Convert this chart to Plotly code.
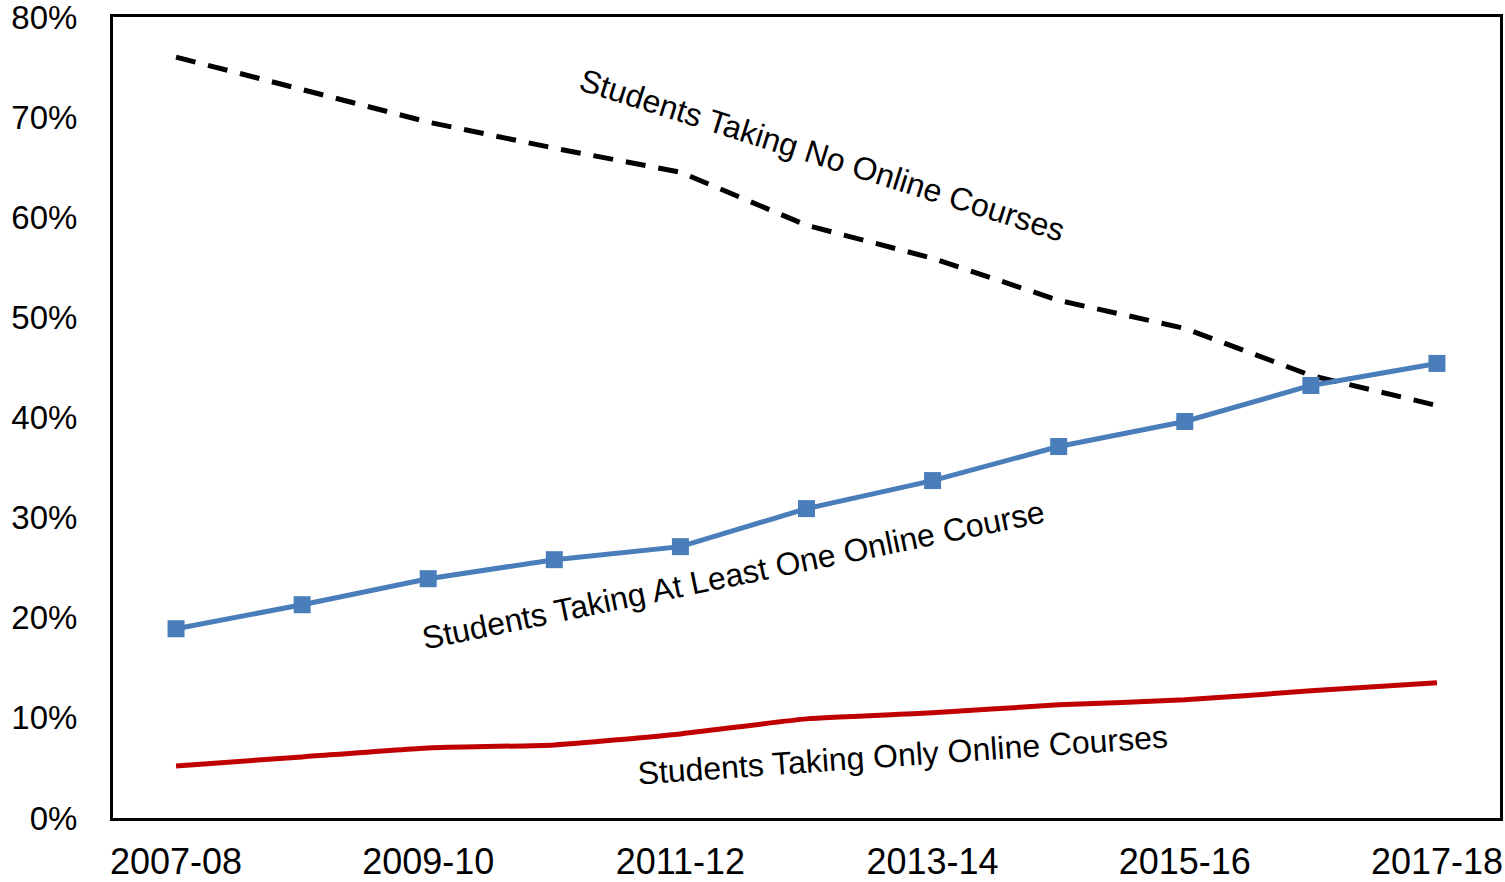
import plotly.graph_objects as go

years = ["2007-08", "2008-09", "2009-10", "2010-11", "2011-12", "2012-13",
         "2013-14", "2014-15", "2015-16", "2016-17", "2017-18"]
no_online = [76.0, 72.7, 69.5, 66.9, 64.5, 59.2, 55.9, 51.7, 48.9, 44.2, 41.2]
at_least_one = [18.9, 21.3, 23.9, 25.8, 27.1, 30.9, 33.7, 37.1, 39.6, 43.2, 45.4]
only_online = [5.2, 6.1, 7.0, 7.3, 8.4, 9.9, 10.5, 11.3, 11.8, 12.7, 13.5]
x_tick_labels = ["2007-08", "2009-10", "2011-12", "2013-14", "2015-16", "2017-18"]
y_ticks = [0, 10, 20, 30, 40, 50, 60, 70, 80]
y_tick_labels = [f"{v}%" for v in y_ticks]

FONT = "Liberation Sans, Arial, sans-serif"

fig = go.Figure()
fig.add_trace(go.Scatter(x=years, y=no_online, mode="lines",
                         line=dict(color="black", width=5, dash="20px,13px"),
                         name="Students Taking No Online Courses"))
fig.add_trace(go.Scatter(x=years, y=only_online, mode="lines",
                         line=dict(color="#C00000", width=5, shape="spline", smoothing=0.5),
                         name="Students Taking Only Online Courses"))
fig.add_trace(go.Scatter(x=years, y=at_least_one, mode="lines+markers",
                         line=dict(color="#4A7EBB", width=5),
                         marker=dict(symbol="square", size=17, color="#4A7EBB"),
                         name="Students Taking At Least One Online Course"))

ann_font = dict(family=FONT, size=32, color="black")
fig.add_annotation(x=5.12, y=66.2, text="Students Taking No Online Courses",
                   showarrow=False, textangle=17.5, font=ann_font)
fig.add_annotation(x=4.42, y=24.3, text="Students Taking At Least One Online Course",
                   showarrow=False, textangle=-11.6, font=ann_font)
fig.add_annotation(x=5.76, y=6.3, text="Students Taking Only Online Courses",
                   showarrow=False, textangle=-4, font=ann_font)

fig.update_layout(
    width=1505, height=882,
    margin=dict(l=113, r=5, t=17, b=64),
    paper_bgcolor="white", plot_bgcolor="white",
    showlegend=False,
    font=dict(family=FONT, size=33, color="black"),
)
fig.update_xaxes(type="category", range=[-0.5, 10.5],
                 tickvals=x_tick_labels, ticktext=x_tick_labels,
                 showgrid=False, zeroline=False, automargin=False,
                 showline=True, linecolor="black", linewidth=3, mirror=True,
                 ticks="outside", ticklen=10, tickcolor="rgba(0,0,0,0)",
                 ticklabeloverflow="allow",
                 tickfont=dict(family=FONT, size=36, color="black"))
fig.update_yaxes(range=[0, 80], tickvals=y_ticks, ticktext=y_tick_labels,
                 showgrid=False, zeroline=False, automargin=False,
                 showline=True, linecolor="black", linewidth=3, mirror=True,
                 ticks="outside", ticklen=26, tickcolor="rgba(0,0,0,0)",
                 ticklabeloverflow="allow",
                 tickfont=dict(family=FONT, size=33, color="black"))

# remove the default page margin so the figure sits at the window's top-left corner
fig.write_html("out.html",
               config={"displayModeBar": False},
               post_script="document.body.style.margin='0';document.body.style.overflow='hidden';")
